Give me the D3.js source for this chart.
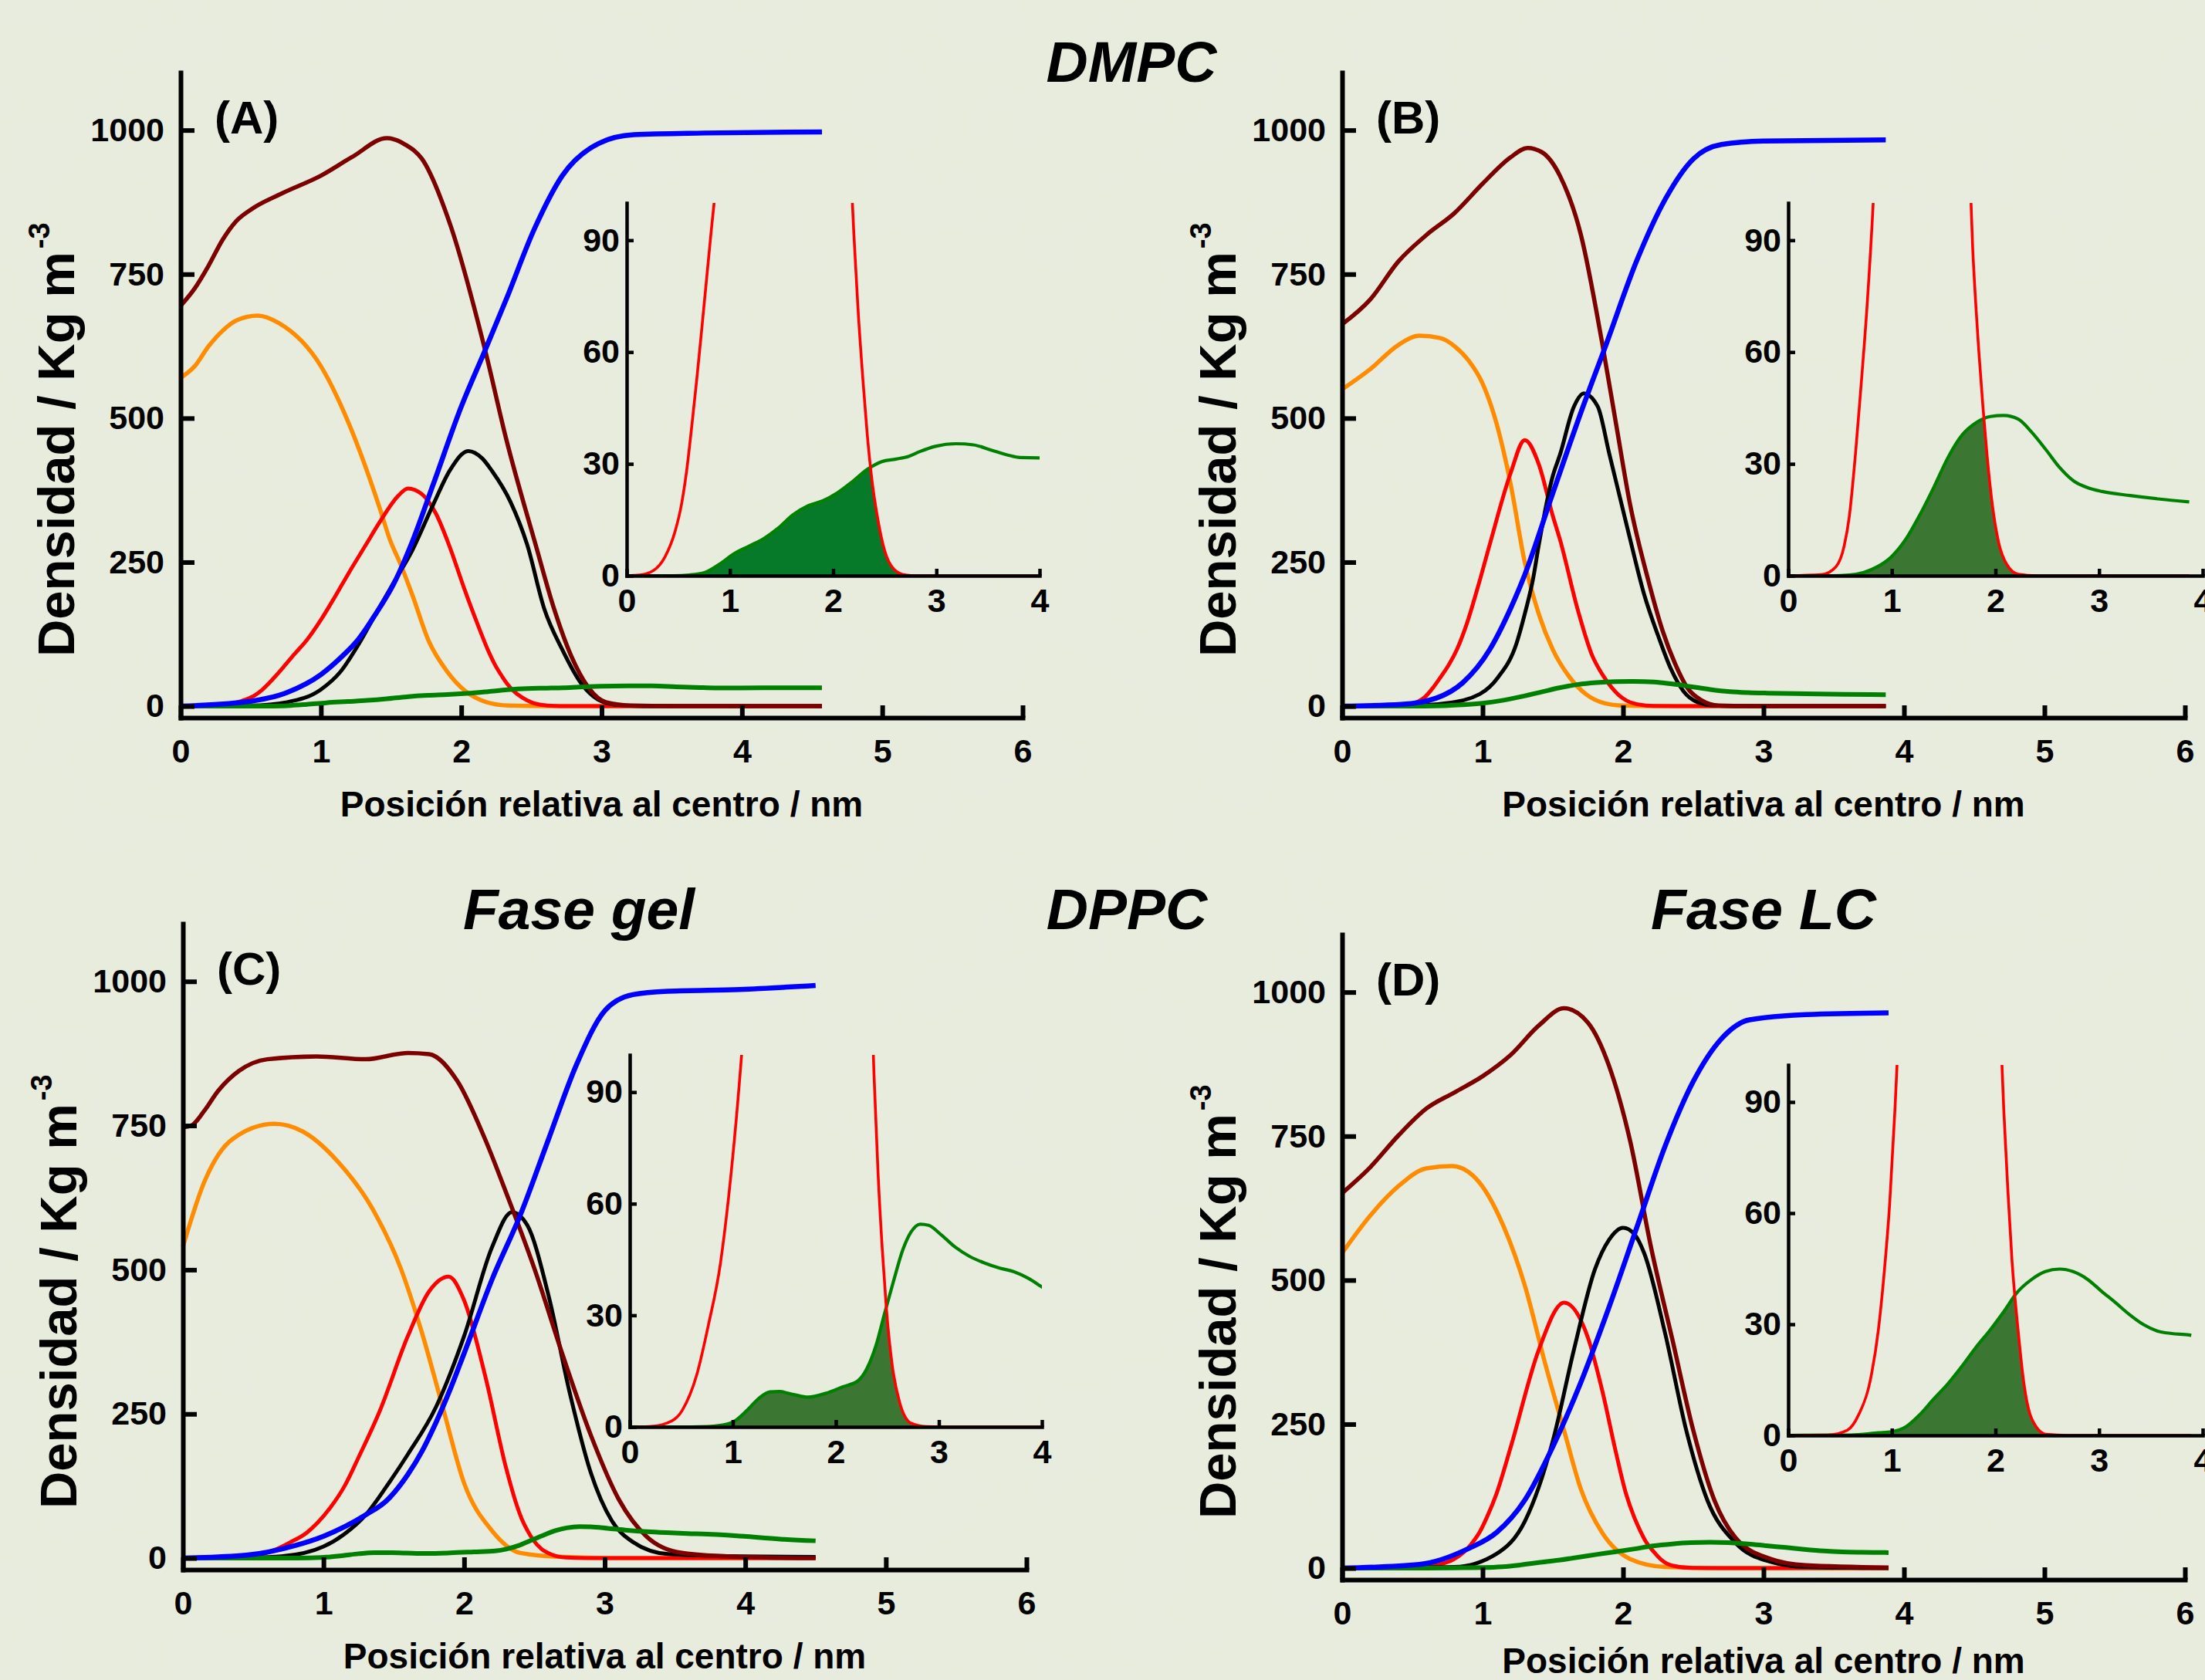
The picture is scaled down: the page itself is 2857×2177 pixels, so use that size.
<!DOCTYPE html>
<html>
<head>
<meta charset="utf-8">
<script src="https://cdn.jsdelivr.net/npm/d3@7"></script>
<style>
  html, body { margin: 0; padding: 0; background: #e6eadb; }
  svg { display: block; }
  text { font-family: "Liberation Sans", Arial, sans-serif; font-weight: bold; fill: #000; }
  .tick text { font-size: 43px; }
</style>
</head>
<body>
<svg id="chart" width="2857" height="2177"></svg>
<script>
// tick values
const xTicks = [0, 1, 2, 3, 4, 5, 6];
const yTicks = [0, 250, 500, 750, 1000];
const insetXTicks = [0, 1, 2, 3, 4];
const insetYTicks = [0, 30, 60, 90];

// panel (A) DMPC gel
const aMaroon = [[0,695],[0.1,725],[0.2,765],[0.3,810],[0.4,843],[0.5,862],[0.72,890],[1.0,921],[1.22,953],[1.47,986],[1.6,975],[1.72,950],[1.92,837],[2.17,618],[2.32,464],[2.53,280],[2.66,170],[2.78,89],[2.91,31],[3.03,7],[3.22,1],[3.5,0],[4.57,0]];
const aOrange = [[0,570],[0.1,590],[0.2,625],[0.3,652],[0.4,670],[0.55,678],[0.7,665],[1.0,590],[1.2,490],[1.42,343],[1.49,290],[1.57,245],[1.65,194],[1.77,112],[1.9,60],[2.03,26],[2.18,7],[2.34,1],[2.6,0],[4.57,0]];
const aRed = [[0,0],[0.13,0.2],[0.26,1.4],[0.37,5],[0.47,12],[0.53,19],[0.58,28],[0.63,40],[0.68,53],[0.73,67],[0.81,90],[0.9,115],[1.0,150],[1.1,190],[1.2,232],[1.32,280],[1.42,320],[1.55,365],[1.62,378],[1.72,368],[1.82,334],[1.92,275],[2.02,205],[2.12,140],[2.2,92],[2.24,72],[2.29,52],[2.33,38],[2.37,27],[2.43,15.6],[2.5,6.6],[2.59,1.7],[2.7,0.2],[2.8,0],[4.57,0]];
const aBlack = [[0,0],[0.5,1],[0.76,7],[1.0,29],[1.14,60],[1.27,108],[1.39,160],[1.52,215],[1.65,270],[1.8,350],[1.92,410],[2.05,443],[2.15,430],[2.22,408],[2.35,355],[2.47,280],[2.59,170],[2.72,98],[2.85,41],[2.97,12],[3.1,2.4],[3.3,0],[4.57,0]];
const aBlue = [[0,0],[0.45,7],[0.76,24],[1.0,55],[1.14,84],[1.27,117],[1.39,160],[1.52,213],[1.65,285],[1.8,385],[2.0,520],[2.17,618],[2.32,706],[2.52,828],[2.72,921],[2.98,977],[3.23,992],[3.73,995],[4.57,997]];
const aGreen = [[0,0],[0.45,0],[0.61,0.2],[0.76,0.9],[0.9,3.1],[1.04,5.9],[1.19,8],[1.33,10],[1.47,12.8],[1.61,16.3],[1.76,18.8],[1.9,20.1],[2.04,22.2],[2.19,25.3],[2.33,28.5],[2.47,30.6],[2.61,31.3],[2.73,32],[2.84,33.3],[2.99,34.7],[3.19,35.4],[3.36,35.1],[3.53,33.7],[3.7,32.3],[3.81,31.7],[3.99,31.6],[4.3,32],[4.57,32]];

// panel (B) DMPC LC
const bMaroon = [[0,663],[0.2,706],[0.4,772],[0.6,818],[0.8,856],[1.0,907],[1.2,953],[1.32,969],[1.42,962],[1.55,921],[1.7,818],[1.85,632],[1.95,490],[2.05,350],[2.18,218],[2.28,132],[2.37,74],[2.46,31],[2.56,10],[2.68,1],[2.9,0],[3.87,0]];
const bOrange = [[0,550],[0.2,585],[0.4,627],[0.55,643],[0.7,639],[0.8,625],[0.9,600],[1.0,560],[1.1,490],[1.2,385],[1.3,250],[1.4,160],[1.5,98],[1.62,50],[1.74,20],[1.87,5],[2.0,1],[2.2,0],[3.87,0]];
const bRed = [[0,0],[0.32,0.3],[0.46,2.4],[0.54,8],[0.59,16],[0.65,33],[0.7,50],[0.76,72],[0.82,100],[0.89,145],[0.97,210],[1.05,280],[1.2,405],[1.3,462],[1.4,420],[1.5,330],[1.55,290],[1.68,165],[1.78,88],[1.84,60],[1.88,45],[1.92,32],[1.97,19],[2.03,9],[2.11,3],[2.22,0.4],[2.4,0],[3.87,0]];
const bBlack = [[0,0],[0.5,1],[0.74,5],[0.98,21],[1.11,50],[1.24,108],[1.3,160],[1.36,222],[1.4,280],[1.5,400],[1.55,436],[1.65,520],[1.72,543],[1.82,520],[1.9,440],[2.0,340],[2.05,290],[2.15,194],[2.25,122],[2.34,65],[2.43,26],[2.53,7],[2.65,1],[2.8,0],[3.87,0]];
const bBlue = [[0,0],[0.42,3],[0.67,14],[0.86,41],[1.05,98],[1.2,170],[1.3,228],[1.5,370],[1.7,510],[1.875,625],[2.1,775],[2.3,880],[2.5,950],[2.7,975],[3.0,981],[3.87,983]];
const bGreen = [[0,0],[0.42,0],[0.59,0.2],[0.73,0.9],[0.86,2.4],[1.0,5.2],[1.14,10],[1.27,16.3],[1.41,24],[1.54,31.6],[1.68,37.8],[1.81,41],[1.95,42.7],[2.08,43],[2.22,42],[2.35,38.5],[2.49,33.7],[2.62,29],[2.76,25.3],[2.89,23.6],[3.03,22.6],[3.3,21.5],[3.57,20.6],[3.87,19.8]];

// panel (C) DPPC gel
const cMaroon = [[0,747],[0.06,750],[0.15,775],[0.25,810],[0.4,845],[0.6,865],[0.95,870],[1.3,865],[1.6,876],[1.75,874],[1.95,828],[2.15,726],[2.3,633],[2.5,502],[2.7,353],[2.9,214],[3.1,102],[3.3,37],[3.55,9],[3.96,2],[4.5,0]];
const cOrange = [[0,540],[0.15,651],[0.35,726],[0.65,753],[0.85,740],[1.1,688],[1.35,605],[1.55,502],[1.7,391],[1.85,260],[2.0,130],[2.2,47],[2.4,9],[2.7,2],[3.2,0],[4.5,0]];
const cRed = [[0,0],[0.19,0.1],[0.36,1],[0.51,4.5],[0.65,14],[0.76,27],[0.88,44],[0.96,62],[1.05,88],[1.15,125],[1.25,175],[1.4,255],[1.6,385],[1.75,462],[1.89,488],[2.0,447],[2.15,316],[2.3,155],[2.37,95],[2.41,68],[2.45,48],[2.49,32],[2.55,16],[2.62,6.5],[2.73,1],[2.87,0.1],[3.0,0],[4.5,0]];
const cBlack = [[0,0],[0.5,1],[0.7,3],[1.0,20],[1.15,42],[1.3,75],[1.45,125],[1.6,180],[1.8,262],[2.0,385],[2.2,540],[2.34,600],[2.45,577],[2.6,456],[2.75,288],[2.9,149],[3.05,65],[3.2,28],[3.45,7],[3.96,3],[4.5,2]];
const cBlue = [[0,0],[0.45,5],[0.8,22],[1.0,38],[1.3,75],[1.45,100],[1.6,145],[1.7,185],[1.8,235],[1.9,292],[2.0,355],[2.2,484],[2.4,595],[2.6,726],[2.8,856],[3.0,949],[3.2,977],[3.45,983],[3.96,986],[4.5,993]];
const cGreen = [[0,0],[0.6,0],[0.76,0.1],[0.94,0.7],[1.02,1.6],[1.14,4.5],[1.25,7.6],[1.36,9.4],[1.45,9.5],[1.59,8.7],[1.73,8],[1.9,9],[2.07,10.8],[2.22,12.5],[2.3,15.6],[2.39,21.9],[2.47,30.2],[2.56,39.2],[2.65,47.6],[2.73,52.4],[2.82,54.5],[2.9,54.2],[3.02,51.7],[3.16,48.3],[3.3,45.8],[3.44,44.1],[3.59,42.7],[3.73,41.7],[3.87,39.9],[3.99,37.8],[4.25,33],[4.5,30]];

// panel (D) DPPC LC
const dMaroon = [[0,651],[0.2,696],[0.4,751],[0.6,798],[0.8,826],[1.0,854],[1.2,891],[1.4,942],[1.58,972],[1.75,947],[1.9,872],[2.05,742],[2.2,556],[2.35,398],[2.5,239],[2.65,118],[2.8,53],[3.05,16],[3.3,5],[3.89,1]];
const dOrange = [[0,547],[0.2,612],[0.4,663],[0.6,694],[0.78,698],[0.95,677],[1.15,593],[1.3,491],[1.45,351],[1.58,239],[1.7,137],[1.85,62],[2.05,16],[2.3,2],[2.6,0],[3.89,0]];
const dRed = [[0,0],[0.38,0.1],[0.57,1.4],[0.68,5.6],[0.79,14.6],[0.87,28.5],[0.92,42],[0.98,63],[1.03,88],[1.1,130],[1.2,210],[1.4,379],[1.58,461],[1.75,400],[1.85,310],[1.95,200],[2.02,130],[2.08,88],[2.12,66],[2.16,47],[2.22,28],[2.27,15],[2.35,4.5],[2.49,0.3],[2.7,0],[3.89,0]];
const dBlack = [[0,0],[0.8,2],[1.1,25],[1.3,81],[1.5,221],[1.65,379],[1.8,519],[1.9,570],[2.0,591],[2.08,580],[2.15,547],[2.3,407],[2.45,239],[2.6,118],[2.8,44],[3.05,11],[3.3,2],[3.89,0]];
const dBlue = [[0,0],[0.55,6.5],[0.9,34],[1.1,62],[1.3,118],[1.5,211],[1.7,323],[1.9,453],[2.1,593],[2.3,733],[2.5,845],[2.7,919],[2.9,952],[3.3,961],[3.89,964]];
const dGreen = [[0,0],[0.6,0.1],[0.87,0.7],[1.0,1],[1.14,2.4],[1.27,5.6],[1.4,9.7],[1.54,13.9],[1.68,18.8],[1.81,23.7],[1.95,28.5],[2.08,33.4],[2.21,38.6],[2.35,42.1],[2.48,44.2],[2.62,44.9],[2.75,44.2],[2.89,42.1],[3.02,39],[3.16,35.8],[3.29,32.7],[3.43,29.9],[3.56,28.2],[3.7,27.5],[3.87,27.1],[3.89,27]];

const titles = [
    { text: "DMPC", x: 1466, y: 106 },
    { text: "Fase gel", x: 750, y: 1204 },
    { text: "DPPC", x: 1460, y: 1204 },
    { text: "Fase LC", x: 2285, y: 1204 }
];

const panels = [
    { label: "(A)", x: [234, 1325], y: [930, 94], ix: [812, 1347], iy: [746, 263], fill: "#067a29", xlab: 128,
      maroon: aMaroon, orange: aOrange, red: aRed, black: aBlack, blue: aBlue, green: aGreen },
    { label: "(B)", x: [1739, 2831], y: [930, 94], ix: [2317, 2854], iy: [746, 263], fill: "#3b7633", xlab: 128,
      maroon: bMaroon, orange: bOrange, red: bRed, black: bBlack, blue: bBlue, green: bGreen },
    { label: "(C)", x: [237, 1330], y: [2034, 1197], ix: [816, 1350], iy: [1849, 1367], fill: "#3b7633", xlab: 128,
      maroon: cMaroon, orange: cOrange, red: cRed, black: cBlack, blue: cBlue, green: cGreen },
    { label: "(D)", x: [1739, 2831], y: [2047, 1211], ix: [2317, 2854], iy: [1860, 1380], fill: "#3b7633", xlab: 121,
      maroon: dMaroon, orange: dOrange, red: dRed, black: dBlack, blue: dBlue, green: dGreen }
];

const colors = { maroon: "#7d0000", orange: "#ff8c00", red: "#ff0000", black: "#000000", blue: "#0000ff", green: "#008000" };
const widths = { maroon: 5.5, orange: 5.5, red: 5, black: 5, blue: 6.5, green: 6 };
const drawOrder = ["orange", "red", "black", "maroon", "green", "blue"];

const svg = d3.select("#chart");
const defs = svg.append("defs");

// paper-like background
const tex = defs.append("filter").attr("id", "tex").attr("x", 0).attr("y", 0).attr("width", "100%").attr("height", "100%");
tex.append("feTurbulence").attr("type", "fractalNoise").attr("baseFrequency", 0.009).attr("numOctaves", 4).attr("seed", 7);
tex.append("feColorMatrix").attr("type", "matrix")
    .attr("values", "0 0 0 0 0.80  0 0 0 0 0.84  0 0 0 0 0.74  1.2 0 0 0 -0.45");
svg.append("rect").attr("width", 2857).attr("height", 2177).attr("fill", "#e8ecdd");
svg.append("rect").attr("width", 2857).attr("height", 2177).attr("filter", "url(#tex)");

const styleAxis = (g, w) => {
    g.attr("font-size", null).attr("font-family", null);
    g.select(".domain").attr("stroke-width", w).attr("stroke-linecap", "square");
    g.selectAll(".tick line").attr("stroke-width", w);
};

const drawPanel = (p, i) => {
    const x = d3.scaleLinear().domain([0, 6]).range(p.x);
    const y = d3.scaleLinear().domain([-20, 1100]).range(p.y);
    const g = svg.append("g");

    const line = d3.line().x((d) => x(d[0])).y((d) => y(d[1])).curve(d3.curveMonotoneX);
    drawOrder.forEach((k) => {
        g.append("path")
            .attr("d", line(p[k]))
            .attr("fill", "none")
            .attr("stroke", colors[k])
            .attr("stroke-width", widths[k]);
    });

    g.append("g")
        .attr("transform", `translate(0,${p.y[0]})`)
        .call(d3.axisBottom(x).tickValues(xTicks).tickFormat(d3.format("d")).tickSizeInner(-16).tickSizeOuter(0).tickPadding(27))
        .call(styleAxis, 6);
    g.append("g")
        .attr("transform", `translate(${p.x[0]},0)`)
        .call(d3.axisLeft(y).tickValues(yTicks).tickFormat(d3.format("d")).tickSizeInner(-18).tickSizeOuter(0).tickPadding(21))
        .call(styleAxis, 6);

    g.append("text")
        .attr("x", p.x[0] + 44)
        .attr("y", y(1000) + 4)
        .attr("font-size", 60)
        .text(p.label);

    g.append("text")
        .attr("x", (p.x[0] + p.x[1]) / 2)
        .attr("y", p.y[0] + p.xlab)
        .attr("text-anchor", "middle")
        .attr("font-size", 46)
        .text("Posición relativa al centro / nm");

    const yl = g.append("text")
        .attr("transform", `translate(${p.x[0] - 138},${y(0) - 64}) rotate(-90)`)
        .attr("font-size", 67);
    yl.append("tspan").text("Densidad / Kg m");
    yl.append("tspan").attr("dy", -32).attr("dx", 4).attr("font-size", 38).text("-3");

    // inset
    const ix = d3.scaleLinear().domain([0, 4]).range(p.ix);
    const iy = d3.scaleLinear().domain([0, 100]).range(p.iy);
    const ig = svg.append("g");

    defs.append("clipPath").attr("id", "inset" + i)
        .append("rect")
        .attr("x", p.ix[0]).attr("y", p.iy[1])
        .attr("width", p.ix[1] - p.ix[0]).attr("height", p.iy[0] - p.iy[1]);

    const area = (data) => d3.area().x((d) => ix(d[0])).y0(iy(0)).y1((d) => iy(d[1])).curve(d3.curveMonotoneX)(data);
    defs.append("clipPath").attr("id", "redArea" + i)
        .append("path").attr("d", area(p.red));

    const inner = ig.append("g").attr("clip-path", `url(#inset${i})`);
    inner.append("path")
        .attr("d", area(p.green))
        .attr("fill", p.fill)
        .attr("clip-path", `url(#redArea${i})`);

    const iline = d3.line().x((d) => ix(d[0])).y((d) => iy(d[1])).curve(d3.curveMonotoneX);
    inner.append("path").attr("d", iline(p.green)).attr("fill", "none").attr("stroke", colors.green).attr("stroke-width", 4.2);
    inner.append("path").attr("d", iline(p.red)).attr("fill", "none").attr("stroke", colors.red).attr("stroke-width", 3.6);

    ig.append("g")
        .attr("transform", `translate(0,${p.iy[0]})`)
        .call(d3.axisBottom(ix).tickValues(insetXTicks).tickFormat(d3.format("d")).tickSizeInner(-9).tickSizeOuter(0).tickPadding(16))
        .call(styleAxis, 4.5);
    ig.append("g")
        .attr("transform", `translate(${p.ix[0]},0)`)
        .call(d3.axisLeft(iy).tickValues(insetYTicks).tickFormat(d3.format("d")).tickSizeInner(-9).tickSizeOuter(0).tickPadding(9))
        .call(styleAxis, 4.5);
};

panels.forEach(drawPanel);

svg.selectAll("text.title")
    .data(titles)
    .enter()
    .append("text")
    .attr("class", "title")
    .attr("x", (d) => d.x)
    .attr("y", (d) => d.y)
    .attr("text-anchor", "middle")
    .attr("font-size", 75)
    .attr("font-style", "italic")
    .text((d) => d.text);
</script>
</body>
</html>
